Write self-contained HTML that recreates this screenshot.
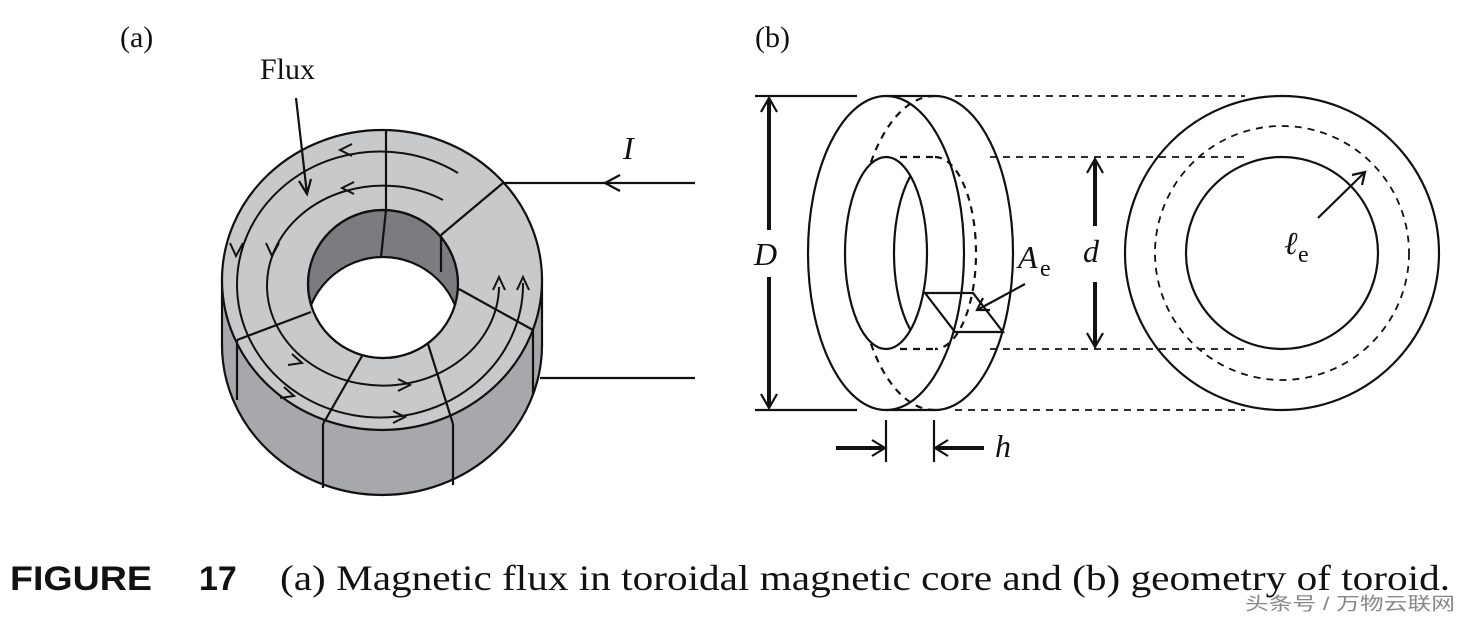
<!DOCTYPE html>
<html><head><meta charset="utf-8"><style>html,body{margin:0;padding:0;background:#fff}svg{display:block}</style></head>
<body>
<svg width="1470" height="624" viewBox="0 0 1470 624" xmlns="http://www.w3.org/2000/svg">
<defs>
<clipPath id="hole"><ellipse cx="383" cy="284" rx="75" ry="74"/></clipPath>
<clipPath id="fronthole"><ellipse cx="886" cy="253" rx="41" ry="96"/></clipPath>
</defs>
<g font-family="Liberation Serif, serif" fill="#111">
<text x="120" y="47" font-size="30">(a)</text>
<text x="755" y="47" font-size="30">(b)</text>
<text x="260" y="79" font-size="30">Flux</text>
<text x="623" y="159" font-size="32" font-style="italic">I</text>
</g>
<!-- (a) toroid -->
<g stroke="#111" stroke-width="2.2">
<path d="M222 280 L222 345 A160 150 0 0 0 542 345 L542 280 Z" fill="#a7a8ab"/>
<ellipse cx="382" cy="280" rx="160" ry="150" fill="#c8c9cb"/>
<ellipse cx="383" cy="284" rx="75" ry="74" fill="#7b7c80"/>
<ellipse cx="383" cy="335" rx="78" ry="78" fill="#fff" clip-path="url(#hole)"/>
<ellipse cx="383" cy="284" rx="75" ry="74" fill="none"/>
<line x1="386" y1="130" x2="386" y2="210"/>
<line x1="386" y1="210" x2="381" y2="257"/>
<line x1="503" y1="183" x2="441" y2="235"/>
<line x1="441" y1="235" x2="441" y2="272"/>
<line x1="459" y1="289" x2="533" y2="330"/>
<line x1="311" y1="312" x2="237" y2="340"/>
<line x1="362" y1="356" x2="323" y2="424"/>
<line x1="428" y1="344" x2="453" y2="424"/>
<line x1="237" y1="340" x2="237" y2="400"/>
<line x1="323" y1="424" x2="323" y2="488"/>
<line x1="453" y1="424" x2="453" y2="485"/>
<line x1="533" y1="330" x2="533" y2="395"/>
<g fill="none" stroke-width="2">
<path d="M458 173 A143 133 0 1 0 523 283"/>
<path d="M443 200 A116 100 0 1 0 499 287"/>
<path d="M352 144 l-12 6 l12 6"/>
<path d="M354 182 l-12 6 l12 6"/>
<path d="M230 243 l6 13 l7 -13"/>
<path d="M266 243 l6 13 l7 -13"/>
<path d="M292 354 l10 9 l-14 2"/>
<path d="M284 387 l10 9 l-14 2"/>
<path d="M398 379 l12 6 l-12 6"/>
<path d="M393 411 l12 6 l-12 6"/>
<path d="M493 290 l6 -13 l6 13"/>
<path d="M517 290 l6 -13 l6 13"/>
</g>
<path d="M296 98 L307 194" fill="none"/>
<path d="M299 181 l8 13 l4 -15" fill="none"/>
<line x1="503" y1="183" x2="695" y2="183"/>
<line x1="540" y1="378" x2="695" y2="378"/>
<path d="M620 175 l-15 8 l15 8" fill="none"/>
</g>
<!-- (b) side view -->
<g stroke="#111" stroke-width="2.2" fill="none">
<line x1="755" y1="96" x2="857" y2="96"/>
<line x1="755" y1="410" x2="857" y2="410"/>
<line x1="769" y1="100" x2="769" y2="230" stroke-width="4"/>
<line x1="769" y1="277" x2="769" y2="406" stroke-width="4"/>
<path d="M761 112 l8 -14 l8 14"/><path d="M761 394 l8 14 l8 -14"/>
<path d="M886 96 L935 96 A78 157 0 0 1 935 410 L886 410"/>
<path d="M935 96 A78 157 0 0 0 870 165" stroke-dasharray="7 6"/>
<path d="M935 410 A78 157 0 0 1 870 341" stroke-dasharray="7 6"/>
<ellipse cx="886" cy="253" rx="78" ry="157"/>
<ellipse cx="886" cy="253" rx="41" ry="96"/>
<ellipse cx="935" cy="253" rx="41" ry="96" clip-path="url(#fronthole)"/>
<path d="M935 157 A41 96 0 0 1 935 349" stroke-dasharray="7 6"/>
<line x1="900" y1="157" x2="935" y2="157" stroke-dasharray="7 6"/>
<line x1="900" y1="349" x2="935" y2="349" stroke-dasharray="7 6"/>
<path d="M925 293 L973 293 L1003 332 L955 332 Z"/>
<line x1="1025" y1="284" x2="979" y2="309"/>
<path d="M983 298 l-6 12 l13 0"/>
<g stroke-dasharray="7 6" stroke-width="1.8">
<line x1="955" y1="96" x2="1245" y2="96"/>
<line x1="990" y1="157" x2="1245" y2="157"/>
<line x1="990" y1="349" x2="1245" y2="349"/>
<line x1="955" y1="410" x2="1245" y2="410"/>
</g>
<line x1="1095" y1="161" x2="1095" y2="226" stroke-width="4"/>
<line x1="1095" y1="282" x2="1095" y2="345" stroke-width="4"/>
<path d="M1087 173 l8 -14 l8 14"/><path d="M1087 333 l8 14 l8 -14"/>
<line x1="886" y1="420" x2="886" y2="462"/>
<line x1="934" y1="420" x2="934" y2="462"/>
<line x1="836" y1="448" x2="884" y2="448" stroke-width="4"/>
<line x1="936" y1="448" x2="984" y2="448" stroke-width="4"/>
<path d="M872 440 l13 8 l-13 8"/><path d="M948 440 l-13 8 l13 8"/>
<circle cx="1282" cy="253" r="157"/>
<circle cx="1282" cy="253" r="96"/>
<circle cx="1282" cy="253" r="127" stroke-dasharray="7 6" stroke-width="1.8"/>
<line x1="1318" y1="218" x2="1364" y2="173"/>
<path d="M1352 175 l13 -3 l-3 13"/>
</g>
<g font-family="Liberation Serif, serif" font-style="italic" fill="#111" font-size="32">
<text x="754" y="265">D</text>
<text x="1083" y="262">d</text>
<text x="1018" y="268">A</text>
<text x="995" y="457">h</text>
<text x="1284" y="254">ℓ</text>
</g>
<g font-family="Liberation Serif, serif" fill="#111" font-size="24">
<text x="1040" y="276">e</text>
<text x="1298" y="262">e</text>
</g>
<text x="10" y="590" font-family="Liberation Sans, sans-serif" font-weight="bold" font-size="34" fill="#111" textLength="142" lengthAdjust="spacingAndGlyphs">FIGURE</text>
<text x="199" y="590" font-family="Liberation Sans, sans-serif" font-weight="bold" font-size="34" fill="#111">17</text>
<text x="280" y="590" font-family="Liberation Serif, serif" font-size="36" fill="#111" textLength="1170" lengthAdjust="spacingAndGlyphs">(a) Magnetic flux in toroidal magnetic core and (b) geometry of toroid.</text>
<text x="1245" y="610" font-family="Liberation Sans, 'Noto Sans CJK SC', sans-serif" font-size="18" fill="#888" textLength="210" lengthAdjust="spacingAndGlyphs">头条号 / 万物云联网</text>
</svg>
</body></html>
